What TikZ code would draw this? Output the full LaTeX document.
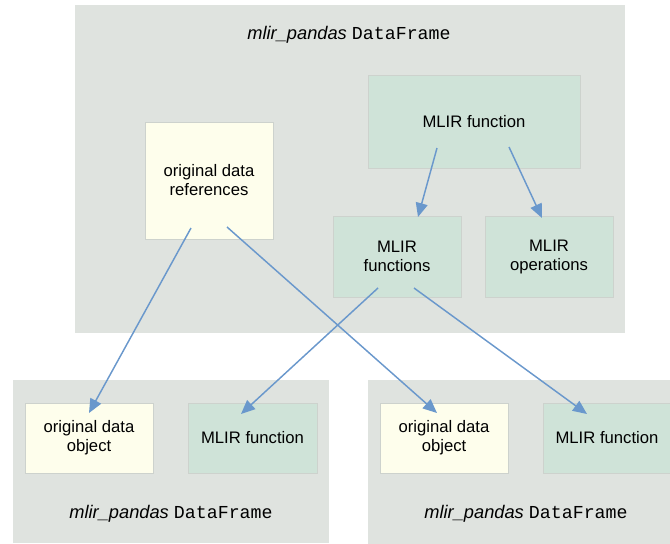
\documentclass[tikz,border=0pt]{standalone}
\usepackage{fontspec}
\setmainfont{Liberation Sans}
\setsansfont{Liberation Sans}
\setmonofont{Liberation Mono}
\usetikzlibrary{arrows.meta}

\definecolor{framegray}{HTML}{DFE3DF}
\definecolor{datayellow}{HTML}{FEFEEC}
\definecolor{funcgreen}{HTML}{CFE3D8}
\definecolor{boxline}{HTML}{CDD2CD}
\definecolor{linkblue}{HTML}{6A98CC}

\newcommand{\dfname}{\textit{mlir\_pandas} \texttt{DataFrame}}

\begin{document}
\begin{tikzpicture}[x=0.75pt, y=-0.75pt,
	font=\fontsize{12.5}{14.25}\selectfont,
	databox/.style={draw=boxline, fill=datayellow, align=center, inner sep=0pt},
	funcbox/.style={draw=boxline, fill=funcgreen, align=center, inner sep=0pt},
	dftitle/.style={font=\fontsize{13.7}{16}\selectfont},
	link/.style={draw=linkblue, line width=1.1pt, -{Triangle[length=10.5pt,width=9pt]}}]
	\useasboundingbox (0,0) rectangle (670,543);
	% the three frames
	\fill[framegray] (75,5) rectangle (625,333);
	\fill[framegray] (13,380) rectangle (329,543);
	\fill[framegray] (368,380) rectangle (672,545);
	\node[dftitle] (toptitle) at (349,35) {\dfname};
	\node[dftitle] (lefttitle) at (171,514) {\dfname};
	\node[dftitle] (righttitle) at (526,514) {\dfname};
	% top frame
	\node[funcbox, minimum width=212*0.75pt, minimum height=93*0.75pt] (fn) at (474,121.5) {MLIR function};
	\node[databox, minimum width=128*0.75pt, minimum height=117*0.75pt] (refs) at (209,180.5) {original data\\references};
	\node[funcbox, minimum width=128*0.75pt, minimum height=81*0.75pt] (fns) at (397,256.5) {MLIR\\functions};
	\node[funcbox, minimum width=128*0.75pt, minimum height=81*0.75pt] (ops) at (549,256.5) {MLIR\\operations};
	% bottom frames
	\node[databox, minimum width=128*0.75pt, minimum height=70*0.75pt] (objl) at (89,438) {original data\\object};
	\node[funcbox, minimum width=129*0.75pt, minimum height=70*0.75pt] (fnl) at (252.5,438) {MLIR function};
	\node[databox, minimum width=128*0.75pt, minimum height=70*0.75pt] (objr) at (444,438) {original data\\object};
	\node[funcbox, minimum width=128*0.75pt, minimum height=70*0.75pt] (fnr) at (607,438) {MLIR function};
	% links
	\draw[link] ([shift={(-37,26.5)}]fn.center) -- ([shift={(21,-39.5)}]fns.center);
	\draw[link] ([shift={(35,25.5)}]fn.center) -- ([shift={(-7,-38.5)}]ops.center);
	\draw[link] ([shift={(-18,47.5)}]refs.center) -- ([shift={(0,-25)}]objl.center);
	\draw[link] ([shift={(18,46.5)}]refs.center) -- ([shift={(-7,-25)}]objr.center);
	\draw[link] ([shift={(-19,31.5)}]fns.center) -- ([shift={(-11.5,-24)}]fnl.center);
	\draw[link] ([shift={(17,31.5)}]fns.center) -- ([shift={(-20,-24)}]fnr.center);
\end{tikzpicture}
\end{document}
